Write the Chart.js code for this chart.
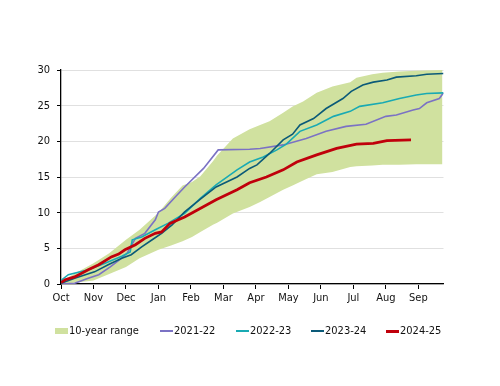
<!DOCTYPE html>
<html>
<head>
<meta charset="utf-8">
<script src="https://cdn.jsdelivr.net/npm/chart.js@4"></script>
<style>
html,body{margin:0;padding:0;background:#fff;}
#wrap{position:relative;width:500px;height:386px;}
canvas{position:absolute;left:0;top:0;}
.leg{position:absolute;top:323px;height:16px;font-family:"DejaVu Sans Condensed","DejaVu Sans",sans-serif;font-size:11px;color:#111;line-height:16px;white-space:nowrap;}
.sw{position:absolute;}
</style>
</head>
<body>
<div id="wrap">
<canvas id="c" width="500" height="386"></canvas>
<div class="leg" style="left:55px;"><span class="sw" style="left:0;top:5px;width:13px;height:6px;background:#d0e19f;"></span><span style="position:absolute;left:14px;">10-year range</span></div>
<div class="leg" style="left:160px;"><span class="sw" style="left:0;top:7px;width:13px;height:2px;background:#7b72c4;"></span><span style="position:absolute;left:14px;">2021-22</span></div>
<div class="leg" style="left:236px;"><span class="sw" style="left:0;top:7px;width:13px;height:2px;background:#19aab3;"></span><span style="position:absolute;left:14px;">2022-23</span></div>
<div class="leg" style="left:311px;"><span class="sw" style="left:0;top:7px;width:13px;height:2px;background:#0b5a78;"></span><span style="position:absolute;left:14px;">2023-24</span></div>
<div class="leg" style="left:386px;"><span class="sw" style="left:0;top:6.5px;width:13px;height:3px;background:#c0000b;"></span><span style="position:absolute;left:14px;">2024-25</span></div>
</div>
<script>
const monthLabels = ["Oct","Nov","Dec","Jan","Feb","Mar","Apr","May","Jun","Jul","Aug","Sep"];
const yTicks = [0,5,10,15,20,25,30];

const bandDays = [0,15,31,46,62,75,93,105,116,125,133,145,149,164,180,190,199,212,221,231,244,259,276,282,297,307,323,339,364];
const bandHigh = [0.4,1.6,2.9,4.3,6.2,7.6,10.0,12.1,13.8,14.3,15.1,17.2,18.0,20.4,21.7,22.3,22.8,24.0,24.9,25.6,26.8,27.7,28.3,28.9,29.4,29.6,29.8,29.9,30.0];
const bandLow  = [0,0.2,0.5,1.4,2.4,3.6,4.8,5.4,6.0,6.6,7.3,8.3,8.6,9.9,10.8,11.5,12.2,13.2,13.8,14.5,15.4,15.7,16.4,16.5,16.6,16.7,16.7,16.8,16.8];

const days2122 = [0,13,26,36,47,56,63,71,80,90,93,99,109,118,136,150,180,190,212,234,253,272,291,310,320,336,342,349,361,365];
const vals2122 = [0,0.1,0.8,1.3,2.4,3.4,4.3,6.4,7.1,9.0,10.1,10.6,12.2,13.6,16.2,18.8,18.9,19.0,19.5,20.4,21.4,22.1,22.4,23.5,23.7,24.4,24.6,25.4,26.0,26.8];

const days2223 = [0,7,26,42,58,66,68,77,90,102,118,133,148,168,180,193,206,215,228,244,260,276,285,307,323,339,349,365];
const vals2223 = [0.5,1.3,2.0,2.9,3.9,4.5,6.2,6.6,7.6,8.5,9.9,12.0,13.9,16.0,17.1,17.8,18.8,19.6,21.4,22.3,23.5,24.2,24.9,25.4,26.0,26.5,26.7,26.8];

const days2324 = [0,13,32,45,58,67,77,87,96,106,118,133,148,168,180,187,199,212,221,228,241,253,269,277,288,298,311,320,339,349,365];
const vals2324 = [0.1,0.8,1.7,2.7,3.6,4.1,5.2,6.2,7.1,8.3,10.1,11.9,13.6,15.0,16.2,16.7,18.3,20.2,21.0,22.3,23.2,24.6,26.0,27.0,27.9,28.3,28.6,29.0,29.2,29.4,29.5];

const days2425 = [0,4,13,26,36,48,55,61,71,80,90,96,104,112,118,148,168,180,196,212,225,244,263,282,298,311,334];
const vals2425 = [0.2,0.6,1.0,2.0,2.7,3.8,4.2,4.8,5.5,6.4,7.1,7.3,8.5,9.0,9.4,11.8,13.2,14.2,15.0,16.0,17.1,18.1,19.0,19.6,19.7,20.1,20.2];

const monthStep = 31;
const pts = (xs, ys) => xs.map((x, i) => ({x: x, y: ys[i]}));

const FONT = {family: '"DejaVu Sans Condensed","DejaVu Sans",sans-serif', size: 11};

new Chart(document.getElementById('c'), {
  type: 'line',
  data: {
    datasets: [
      {label: 'low', data: pts(bandDays, bandLow), borderWidth: 0, pointRadius: 0, fill: false, order: 10, borderColor: 'rgba(0,0,0,0)', clip: 0},
      {label: '10-year range', data: pts(bandDays, bandHigh), borderWidth: 0, pointRadius: 0, fill: '-1', backgroundColor: '#d0e19f', borderColor: 'rgba(0,0,0,0)', order: 9, clip: 0},
      {label: '2021-22', data: pts(days2122, vals2122), borderColor: '#7b72c4', borderWidth: 1.6, pointRadius: 0, fill: false, order: 4, clip: 0},
      {label: '2022-23', data: pts(days2223, vals2223), borderColor: '#19aab3', borderWidth: 1.6, pointRadius: 0, fill: false, order: 3, clip: 0},
      {label: '2023-24', data: pts(days2324, vals2324), borderColor: '#0b5a78', borderWidth: 1.6, pointRadius: 0, fill: false, order: 2, clip: 0},
      {label: '2024-25', data: pts(days2425, vals2425), borderColor: '#c0000b', borderWidth: 2.8, pointRadius: 0, fill: false, order: 1, clip: 0}
    ]
  },
  options: {
    responsive: false,
    animation: false,
    events: [],
    layout: {padding: {left: 0, right: 56.5, top: 70, bottom: 0}},
    plugins: {legend: {display: false}, tooltip: {enabled: false}},
    elements: {line: {tension: 0}},
    scales: {
      x: {
        type: 'linear', min: 0, max: 365,
        afterBuildTicks: s => { s.ticks = monthLabels.map((m, i) => ({value: i * monthStep})); },
        afterFit: s => { s.height = 102; },
        ticks: {callback: (v, i) => monthLabels[i], color: '#111', font: FONT, padding: 3, maxRotation: 0, autoSkip: false},
        grid: {drawOnChartArea: false, drawTicks: true, tickLength: 5, tickColor: '#000', tickWidth: 1},
        border: {color: '#000', width: 1.3}
      },
      y: {
        min: 0, max: 30,
        afterBuildTicks: s => { s.ticks = yTicks.map(v => ({value: v})); },
        afterFit: s => { s.width = 61; },
        ticks: {color: '#111', font: FONT, padding: 7},
        grid: {color: '#e0e0e0', lineWidth: 1, tickLength: 4, tickColor: '#000'},
        border: {color: '#000', width: 1.3}
      }
    }
  }
});
</script>
</body>
</html>
